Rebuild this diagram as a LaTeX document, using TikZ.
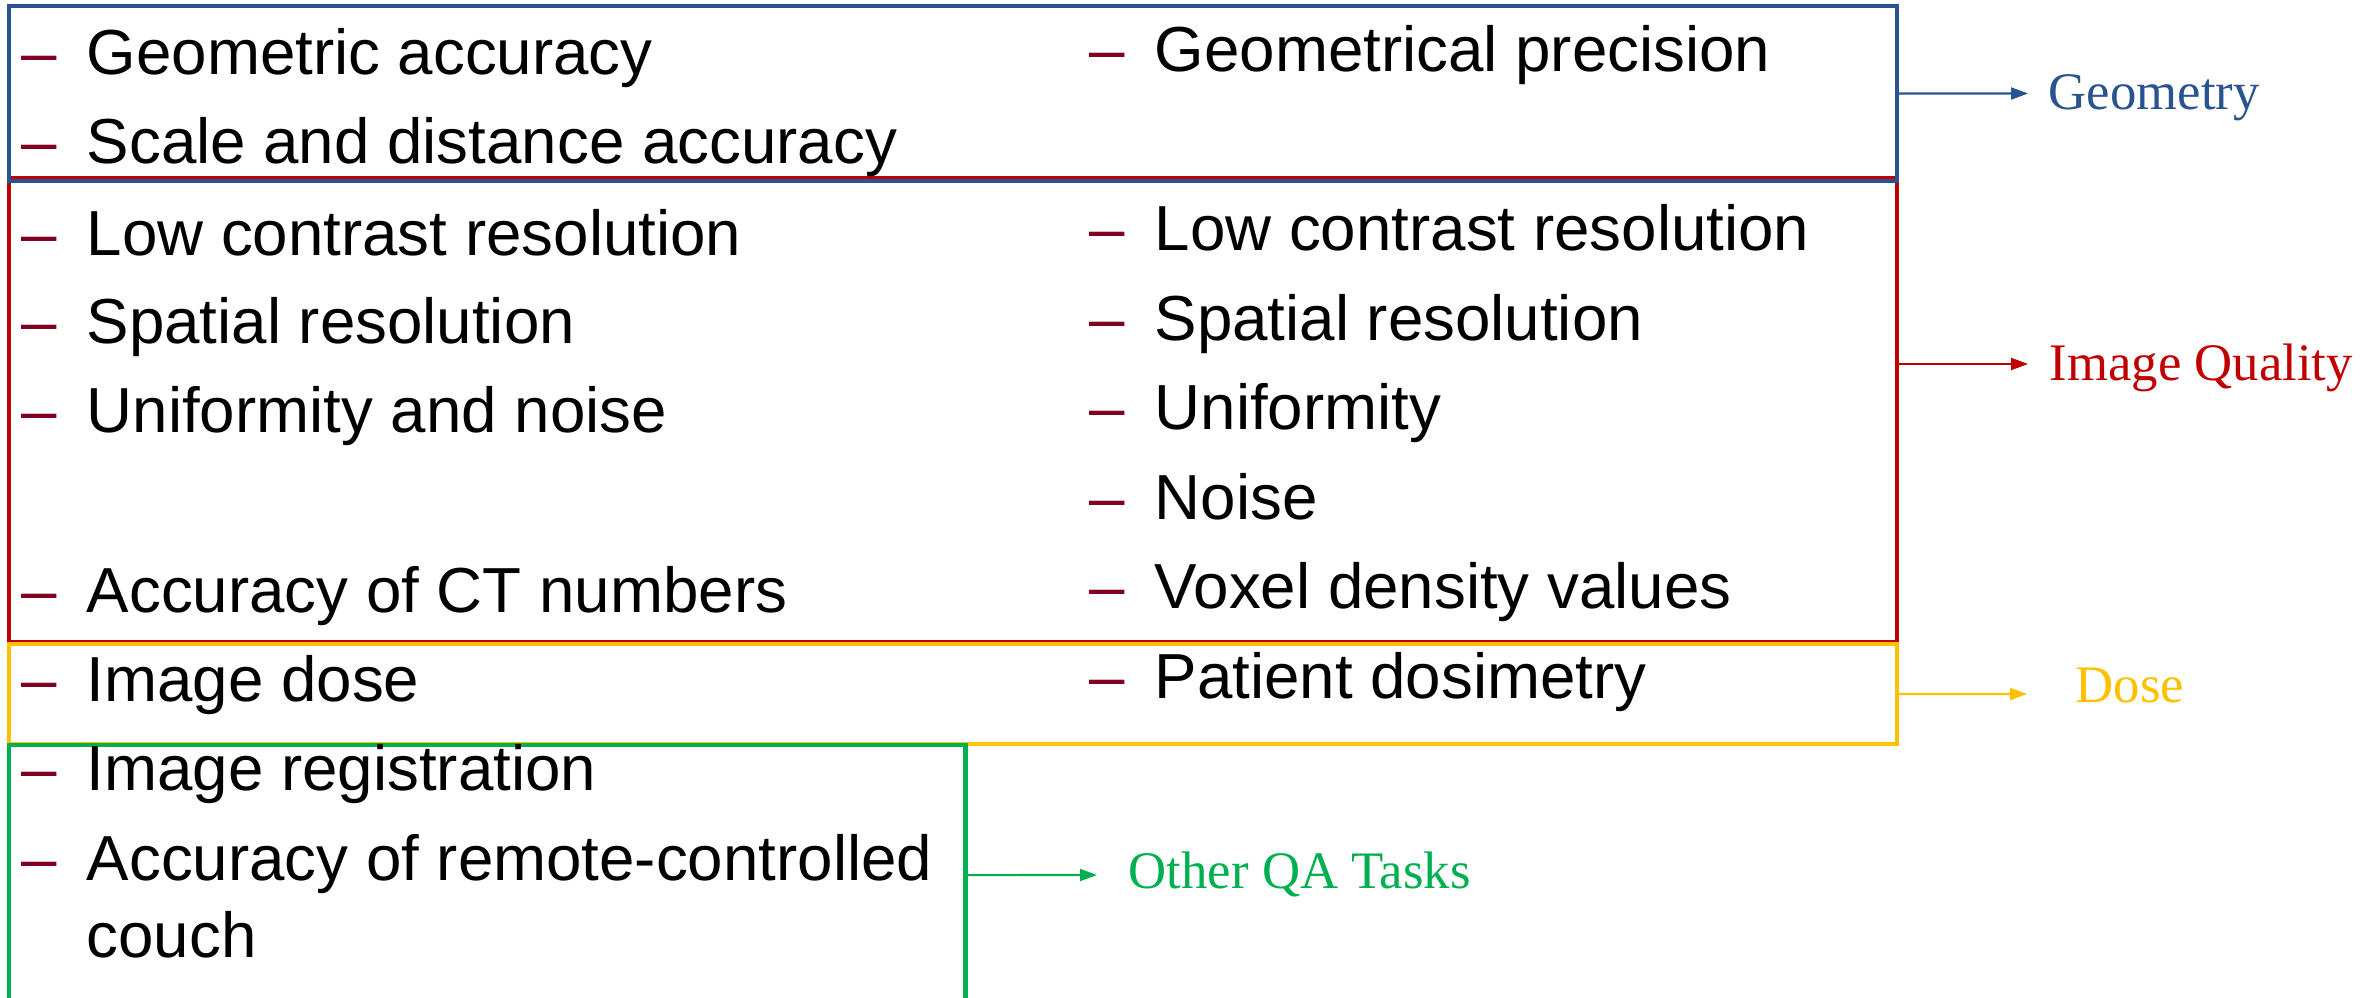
\documentclass[tikz,border=0pt]{standalone}
\usepackage{fontspec}
\setmainfont{Liberation Sans}
\newfontfamily\labelfont{Liberation Serif}
\usetikzlibrary{arrows.meta,positioning}

\definecolor{geoblue}{HTML}{2A5490}
\definecolor{iqred}{HTML}{C00000}
\definecolor{doseyellow}{HTML}{FFC000}
\definecolor{qagreen}{HTML}{00B050}
\definecolor{dashred}{HTML}{800020}

\newcommand{\itm}[1]{\makebox[0.65cm][l]{\textcolor{dashred}{–}}#1}

\tikzstyle{catbox} = [rectangle, line width=1.3pt, anchor=north west, inner sep=0pt, outer sep=0pt]
\tikzstyle{item} = [anchor=base west, inner sep=0pt, font=\fontsize{18.1}{21.8}\selectfont]
\tikzstyle{catlabel} = [anchor=base west, inner sep=0pt, font=\labelfont\fontsize{15}{18}\selectfont]
\tikzstyle{arrow} = [line width=0.6pt, -{Triangle[length=0.17cm,width=0.12cm]}]

\begin{document}
\begin{tikzpicture}[x=0.01cm, y=-0.01cm]
    \useasboundingbox (0,0) rectangle (2361,997);
    \clip (0,0) rectangle (2361,997);

    % category boxes
    \node (iq) [catbox, draw=iqred, minimum width=18.87cm, minimum height=4.64cm] at (9,178) {};
    \node (geo) [catbox, draw=geoblue, minimum width=18.87cm, minimum height=1.75cm] at (9,6) {};
    \node (dose) [catbox, draw=doseyellow, minimum width=18.87cm, minimum height=1.0cm] at (9,644) {};
    \node (qa) [catbox, draw=qagreen, minimum width=9.56cm, minimum height=2.6cm] at (9,745) {};

    % left column
    \node (geoa) [item] at (21,75) {\itm{Geometric accuracy}};
    \node (geob) [item] at (21,163) {\itm{Scale and distance accuracy}};
    \node (iqa) [item] at (21,255) {\itm{Low contrast resolution}};
    \node (iqb) [item] at (21,343) {\itm{Spatial resolution}};
    \node (iqc) [item] at (21,432) {\itm{Uniformity and noise}};
    \node (iqd) [item] at (21,612) {\itm{Accuracy of CT numbers}};
    \node (dosea) [item] at (21,701) {\itm{Image dose}};
    \node (qaa) [item] at (21,790) {\itm{Image registration}};
    \node (qab) [item] at (21,880) {\itm{Accuracy of remote-controlled}};
    \node (qac) [item] at (86,957) {couch};

    % right column
    \node (geoc) [item] at (1089,72) {\itm{Geometrical precision}};
    \node (iqe) [item] at (1089,251) {\itm{Low contrast resolution}};
    \node (iqf) [item] at (1089,340) {\itm{Spatial resolution}};
    \node (iqg) [item] at (1089,429) {\itm{Uniformity}};
    \node (iqh) [item] at (1089,519) {\itm{Noise}};
    \node (iqi) [item] at (1089,608) {\itm{Voxel density values}};
    \node (doseb) [item] at (1089,698) {\itm{Patient dosimetry}};

    % arrows to the categories
    \coordinate (geoend) at (2028,93.5);
    \coordinate (iqend) at (2028,364);
    \coordinate (doseend) at (2027,694);
    \coordinate (qaend) at (1097,875);

    \draw [arrow, geoblue] (geo.east) -- (geoend);
    \draw [arrow, iqred] (iq.east |- iqend) -- (iqend);
    \draw [arrow, doseyellow] (dose.east) -- (doseend);
    \draw [arrow, qagreen] (qa.east) -- (qaend);

    \node (geolabel) [catlabel, text=geoblue] at (2048,110) {Geometry};
    \node (iqlabel) [catlabel, text=iqred] at (2049,380) {Image Quality};
    \node (doselabel) [catlabel, text=doseyellow] at (2075,702) {Dose};
    \node (qalabel) [catlabel, text=qagreen] at (1128,888) {Other QA Tasks};

\end{tikzpicture}
\end{document}
